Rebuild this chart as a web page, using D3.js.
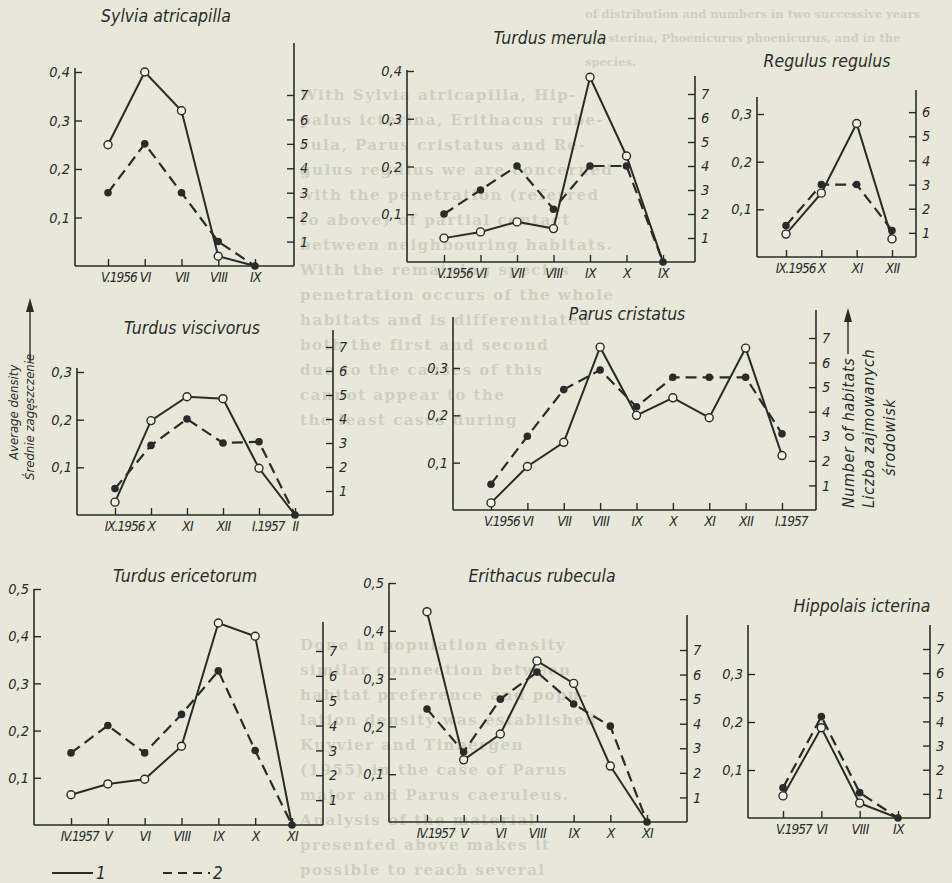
<!DOCTYPE html>
<html>
<head>
<meta charset="utf-8">
<script src="https://cdn.jsdelivr.net/npm/d3@7"></script>
<style>
  body { margin: 0; background: #e8e8da; }
  svg { display: block; }
  .lab { font-family: "DejaVu Sans Condensed", "Liberation Sans Narrow", "DejaVu Sans", sans-serif; font-style: italic; fill: #2b2b2b; }
  .bg { font-family: "DejaVu Serif", "Liberation Serif", serif; font-weight: bold; fill: #cfcfc1; font-size: 15px; letter-spacing: 1.5px; }
</style>
</head>
<body>
<script>
// size of the page
const w = 952, h = 883;

// data: 1 = average density (left axis), 2 = number of habitats (right axis)
const sylviaMonths = ["V.1956", "VI", "VII", "VIII", "IX"];
const sylviaDensity = [0.25, 0.40, 0.32, 0.02, 0];
const sylviaHabitats = [3, 5, 3, 1, 0];

const merulaMonths = ["V.1956", "VI", "VII", "VIII", "IX", "X", "IX"];
const merulaDensity = [0.05, 0.063, 0.084, 0.07, 0.387, 0.222, 0];
const merulaHabitats = [2, 3, 4, 2.2, 4, 4, 0];

const regulusMonths = ["IX.1956", "X", "XI", "XII"];
const regulusDensity = [0.048, 0.134, 0.28, 0.038];
const regulusHabitats = [1.3, 3, 3, 1.1];

const viscivorusMonths = ["IX.1956", "X", "XI", "XII", "I.1957", "II"];
const viscivorusDensity = [0.027, 0.198, 0.248, 0.244, 0.098, 0];
const viscivorusHabitats = [1.1, 2.9, 4, 3, 3.05, 0];

const parusMonths = ["V.1956", "VI", "VII", "VIII", "IX", "X", "XI", "XII", "I.1957"];
const parusDensity = [0.015, 0.092, 0.143, 0.344, 0.2, 0.237, 0.195, 0.342, 0.115];
const parusHabitats = [1.05, 3, 4.9, 5.7, 4.2, 5.4, 5.4, 5.4, 3.1];

const ericetorumMonths = ["IV.1957", "V", "VI", "VIII", "IX", "X", "XI"];
const ericetorumDensity = [0.064, 0.087, 0.097, 0.167, 0.428, 0.4, 0];
const ericetorumHabitats = [2.9, 4, 2.9, 4.45, 6.2, 3, 0];

const rubeculaMonths = ["IV.1957", "V", "VI", "VIII", "IX", "X", "XI"];
const rubeculaDensity = [0.44, 0.13, 0.184, 0.337, 0.29, 0.117, 0];
const rubeculaHabitats = [4.6, 2.85, 5, 6.1, 4.8, 3.9, 0];

const hippolaisMonths = ["V.1957", "VI", "VIII", "IX"];
const hippolaisDensity = [0.046, 0.188, 0.031, 0];
const hippolaisHabitats = [1.25, 4.2, 1.05, 0];

const densityTicks4 = [0.1, 0.2, 0.3, 0.4];
const densityTicks3 = [0.1, 0.2, 0.3];
const densityTicks5 = [0.1, 0.2, 0.3, 0.4, 0.5];
const habitatTicks7 = [1, 2, 3, 4, 5, 6, 7];
const habitatTicks6 = [1, 2, 3, 4, 5, 6];

// layout of each small panel (pixels)
const panels = [
  {title: "Sylvia atricapilla", tx: 166, ty: 22, months: sylviaMonths, dens: sylviaDensity, hab: sylviaHabitats,
   lx: 75, rx: 294, base: 266, ltop: 68, rtop: 43, x0: 108, x1: 255, dTop: 0.4, dTopY: 72, h7Y: 95,
   dTicks: densityTicks4, hTicks: habitatTicks7},
  {title: "Turdus merula", tx: 550, ty: 44, months: merulaMonths, dens: merulaDensity, hab: merulaHabitats,
   lx: 407, rx: 695, base: 262, ltop: 70, rtop: 76, x0: 444, x1: 663, dTop: 0.4, dTopY: 71, h7Y: 94,
   dTicks: densityTicks4, hTicks: habitatTicks7},
  {title: "Regulus regulus", tx: 827, ty: 67, months: regulusMonths, dens: regulusDensity, hab: regulusHabitats,
   lx: 757, rx: 916, base: 257, ltop: 97, rtop: 90, x0: 786, x1: 892, dTop: 0.3, dTopY: 114, h7Y: 88,
   dTicks: densityTicks3, hTicks: habitatTicks6},
  {title: "Turdus viscivorus", tx: 192, ty: 334, months: viscivorusMonths, dens: viscivorusDensity, hab: viscivorusHabitats,
   lx: 77, rx: 333, base: 515, ltop: 368, rtop: 330, x0: 115, x1: 295, dTop: 0.3, dTopY: 372, h7Y: 347,
   dTicks: densityTicks3, hTicks: habitatTicks7},
  {title: "Parus cristatus", tx: 627, ty: 320, months: parusMonths, dens: parusDensity, hab: parusHabitats,
   lx: 453, rx: 816, base: 510, ltop: 317, rtop: 310, x0: 491, x1: 782, dTop: 0.3, dTopY: 368, h7Y: 338,
   dTicks: densityTicks3, hTicks: habitatTicks7},
  {title: "Turdus ericetorum", tx: 185, ty: 582, months: ericetorumMonths, dens: ericetorumDensity, hab: ericetorumHabitats,
   lx: 34, rx: 323, base: 825, ltop: 589, rtop: 622, x0: 71, x1: 292, dTop: 0.5, dTopY: 589, h7Y: 651,
   dTicks: densityTicks5, hTicks: habitatTicks7},
  {title: "Erithacus rubecula", tx: 542, ty: 582, months: rubeculaMonths, dens: rubeculaDensity, hab: rubeculaHabitats,
   lx: 389, rx: 687, base: 822, ltop: 583, rtop: 615, x0: 427, x1: 647, dTop: 0.5, dTopY: 583, h7Y: 650,
   dTicks: densityTicks5, hTicks: habitatTicks7},
  {title: "Hippolais icterina", tx: 862, ty: 612, months: hippolaisMonths, dens: hippolaisDensity, hab: hippolaisHabitats,
   lx: 748, rx: 930, base: 818, ltop: 625, rtop: 625, x0: 783, x1: 898, dTop: 0.3, dTopY: 674, h7Y: 649,
   dTicks: densityTicks3, hTicks: habitatTicks7}
];

// faint text of the printed page behind the figure
const pageTop = [
  "of distribution and numbers in two successive years",
  "ale sterina, Phoenicurus phoenicurus, and in the",
  "species."
];
const pageColumn = [
  "With Sylvia atricapilla, Hip-", "palus icterina, Erithacus rube-", "cula, Parus cristatus and Re-",
  "gulus regulus we are concerned", "with the penetration (referred", "to above) of partial contact",
  "between neighbouring habitats.", "With the remaining species", "penetration occurs of the whole",
  "habitats and is differentiated", "both the first and second", "due to the causes of this",
  "cannot appear to the", "the least cases during",
  "", "", "", "", "", "", "", "",
  "Done in population density", "similar connection between", "habitat preference and popu-",
  "lation density was established", "Kuyvier and Tinbergen", "(1955) in the case of Parus",
  "major and Parus caeruleus.", "Analysis of the material", "presented above makes it",
  "possible to reach several"
];

const svg = d3.select("body").append("svg")
  .attr("width", w)
  .attr("height", h);

svg.append("rect").attr("width", w).attr("height", h).attr("fill", "#e8e8da");

// background print
svg.append("g").selectAll("text")
  .data(pageTop)
  .enter()
  .append("text")
  .attr("class", "bg")
  .attr("x", 585)
  .attr("y", (d, i) => 18 + i * 24)
  .style("font-size", "11.5px")
  .style("letter-spacing", "0px")
  .text(d => d);

svg.append("g").selectAll("text")
  .data(pageColumn)
  .enter()
  .append("text")
  .attr("class", "bg")
  .attr("x", 300)
  .attr("y", (d, i) => 100 + i * 25)
  .text(d => d);

const fmt = d => d3.format(".1f")(d).replace(".", ",");
const ink = "#2a2a2a";

function styleAxis(a, size) {
  a.select(".domain").remove();
  a.attr("color", ink);
  a.selectAll("line").attr("stroke-width", 1.4);
  a.selectAll("text")
    .attr("class", "lab")
    .style("font-size", size + "px");
}

panels.forEach(p => {
  const g = svg.append("g");

  const x = d3.scalePoint()
    .domain(d3.range(p.months.length))
    .range([p.x0, p.x1]);
  const yL = d3.scaleLinear().domain([0, p.dTop]).range([p.base, p.dTopY]);
  const yR = d3.scaleLinear().domain([0, 7]).range([p.base, p.h7Y]);

  // frame
  g.append("line").attr("x1", p.lx).attr("x2", p.lx).attr("y1", p.base).attr("y2", p.ltop)
    .attr("stroke", ink).attr("stroke-width", 1.6);
  g.append("line").attr("x1", p.rx).attr("x2", p.rx).attr("y1", p.base).attr("y2", p.rtop)
    .attr("stroke", ink).attr("stroke-width", 1.6);
  g.append("line").attr("x1", p.lx).attr("x2", p.rx).attr("y1", p.base).attr("y2", p.base)
    .attr("stroke", ink).attr("stroke-width", 1.6);

  // left axis: density
  g.append("g")
    .attr("transform", `translate(${p.lx},0)`)
    .call(d3.axisLeft(yL).tickValues(p.dTicks).tickSizeInner(-7).tickSizeOuter(0).tickPadding(5).tickFormat(fmt))
    .call(a => styleAxis(a, 14.5));

  // right axis: number of habitats
  g.append("g")
    .attr("transform", `translate(${p.rx},0)`)
    .call(d3.axisRight(yR).tickValues(p.hTicks).tickSizeInner(-7).tickSizeOuter(0).tickPadding(6).tickFormat(d => d))
    .call(a => styleAxis(a, 14.5));

  // bottom axis: months; the roman numeral sits on the tick, the year runs to the right
  g.append("g")
    .attr("transform", `translate(0,${p.base})`)
    .call(d3.axisBottom(x).tickSizeInner(-7).tickSizeOuter(0).tickPadding(6).tickFormat(i => p.months[i]))
    .call(a => styleAxis(a, 14))
    .selectAll("text")
    .attr("letter-spacing", "-0.6px")
    .each(function(i) {
      const lab = p.months[i];
      if (lab.indexOf(".") > 0) {
        const roman = lab.split(".")[0];
        d3.select(this)
          .attr("text-anchor", "start")
          .attr("dx", -(roman.length * 3.4 + 4))
          .attr("letter-spacing", "-1px")
          .style("font-size", "13.5px");
      }
    });

  // title
  g.append("text")
    .attr("class", "lab")
    .attr("x", p.tx)
    .attr("y", p.ty)
    .attr("text-anchor", "middle")
    .style("font-size", "17.5px")
    .text(p.title);

  // series 2 (dashed, habitats)
  const lineR = d3.line().x((d, i) => x(i)).y(d => yR(d));
  g.append("path")
    .datum(p.hab)
    .attr("d", lineR)
    .attr("fill", "none")
    .attr("stroke", ink)
    .attr("stroke-width", 2.2)
    .attr("stroke-dasharray", "11,6");

  // series 1 (solid, density)
  const lineL = d3.line().x((d, i) => x(i)).y(d => yL(d));
  g.append("path")
    .datum(p.dens)
    .attr("d", lineL)
    .attr("fill", "none")
    .attr("stroke", ink)
    .attr("stroke-width", 2);

  g.selectAll(".dot")
    .data(p.hab)
    .enter()
    .append("circle")
    .attr("class", "dot")
    .attr("cx", (d, i) => x(i))
    .attr("cy", d => yR(d))
    .attr("r", 3.8)
    .attr("fill", ink);

  g.selectAll(".ring")
    .data(p.dens)
    .enter()
    .append("circle")
    .attr("class", "ring")
    .attr("cx", (d, i) => x(i))
    .attr("cy", d => yL(d))
    .attr("r", d => d == 0 ? 0 : 4)
    .attr("fill", "#f1f1e6")
    .attr("stroke", ink)
    .attr("stroke-width", 1.4);
});

// side titles
function arrow(xp, yTop, yBot) {
  svg.append("line").attr("x1", xp).attr("x2", xp).attr("y1", yBot).attr("y2", yTop + 8)
    .attr("stroke", ink).attr("stroke-width", 1.4);
  svg.append("path")
    .attr("d", `M${xp},${yTop} L${xp - 4},${yTop + 14} L${xp + 4},${yTop + 14} Z`)
    .attr("fill", ink);
}

arrow(30, 298, 362);
svg.append("text").attr("class", "lab")
  .attr("transform", "translate(18,460) rotate(-90)")
  .style("font-size", "13px")
  .text("Average density");
svg.append("text").attr("class", "lab")
  .attr("transform", "translate(34,480) rotate(-90)")
  .style("font-size", "13px")
  .text("Średnie zagęszczenie");

arrow(848, 308, 354);
svg.append("text").attr("class", "lab")
  .attr("transform", "translate(854,508) rotate(-90)")
  .style("font-size", "16px")
  .style("letter-spacing", "0.6px")
  .text("Number of habitats");
svg.append("text").attr("class", "lab")
  .attr("transform", "translate(874,508) rotate(-90)")
  .style("font-size", "16px")
  .style("letter-spacing", "0.6px")
  .text("Liczba zajmowanych");
svg.append("text").attr("class", "lab")
  .attr("transform", "translate(895,476) rotate(-90)")
  .style("font-size", "16px")
  .style("letter-spacing", "0.6px")
  .text("środowisk");

// legend
const legend = svg.append("g");
legend.append("line").attr("x1", 52).attr("x2", 93).attr("y1", 873).attr("y2", 873)
  .attr("stroke", ink).attr("stroke-width", 2);
legend.append("text").attr("class", "lab").attr("x", 96).attr("y", 879).style("font-size", "17px").text("1");
legend.append("line").attr("x1", 163).attr("x2", 210).attr("y1", 873).attr("y2", 873)
  .attr("stroke", ink).attr("stroke-width", 2).attr("stroke-dasharray", "9,6");
legend.append("text").attr("class", "lab").attr("x", 213).attr("y", 879).style("font-size", "17px").text("2");
</script>
</body>
</html>
